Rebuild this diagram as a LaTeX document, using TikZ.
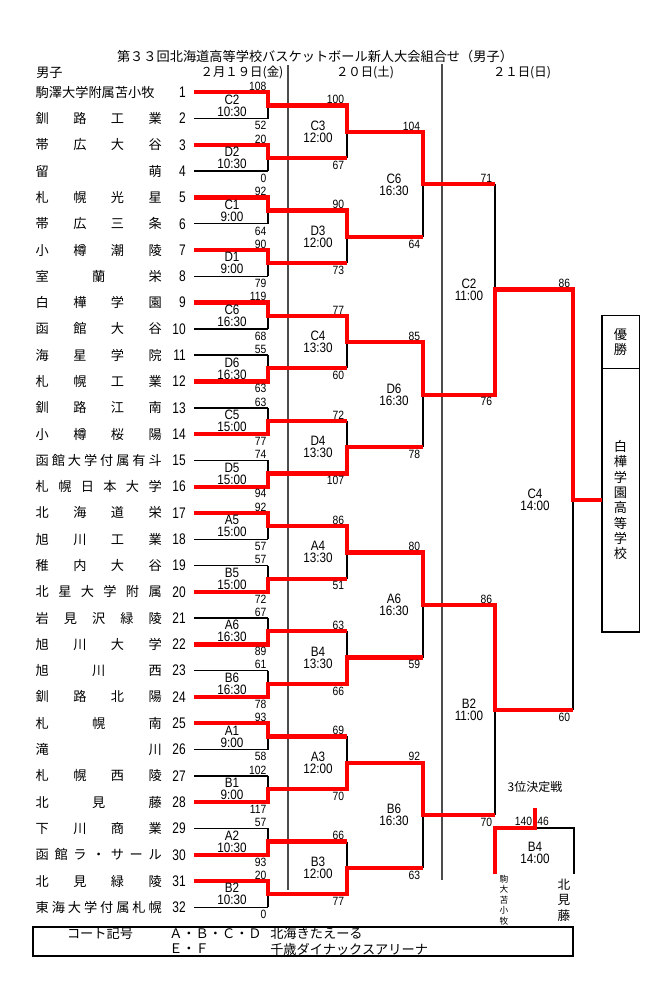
\documentclass[tikz,border=0pt]{standalone}
\usepackage{fontspec}
\setmainfont{Noto Sans CJK JP}
\newfontfamily\numfont[FakeStretch=0.86]{Liberation Sans}
\newfontfamily\seedfont[FakeStretch=0.78]{Liberation Sans}
\usetikzlibrary{positioning}

% spread a school name over the name column
\def\spreadfirst#1{\ifx\relax#1\else#1\expandafter\spreadrest\fi}
\def\spreadrest#1{\ifx\relax#1\else\hfill#1\expandafter\spreadrest\fi}
\newcommand{\schoolname}[1]{\hbox to 94.5pt{\spreadfirst#1\relax}}

\begin{document}
\begin{tikzpicture}[x=0.75pt, y=-0.75pt,
  bline/.style={black, line width=1.1pt},
  win/.style={red, line width=3.2pt, line join=miter},
  dayline/.style={black!70, line width=1.2pt},
  school/.style={inner sep=0pt, font=\fontsize{9.9}{12}\selectfont},
  seed/.style={inner sep=0pt, font=\seedfont\fontsize{11.5}{12}\selectfont},
  pts/.style={inner sep=0pt, font=\numfont\fontsize{9}{9}\selectfont},
  game/.style={inner sep=0pt, align=center, font=\numfont\fontsize{10.2}{9}\selectfont},
  jtext/.style={inner sep=0pt, font=\fontsize{9.9}{12}\selectfont},
  tate/.style={inner sep=0pt, align=center},
  champbox/.style={draw, line width=1.2pt, minimum width=28.2pt, inner sep=0pt, outer sep=0pt, align=center, font=\fontsize{9.9}{11.5}\selectfont}]
\useasboundingbox (0,0) rectangle (667,1000);

% header
\node[jtext] (title) at (315,56) {第３３回北海道高等学校バスケットボール新人大会組合せ（男子）};
\node[jtext, anchor=west] (boys) at (36,72.7) {男子};
\node[jtext, font=\fontsize{9.3}{12}\selectfont] (day1) at (242,72.7) {２月１９日(金)};
\node[jtext, font=\fontsize{9.3}{12}\selectfont] (day2) at (365,72.7) {２０日(土)};
\node[jtext, font=\fontsize{9.3}{12}\selectfont] (day3) at (522,72.7) {２１日(日)};
\draw[dayline] (288,65) -- (288,890);
\draw[dayline] (442,64) -- (442,880);

% rows of the 32 teams
\foreach \i in {1,...,32}{
  \pgfmathsetmacro\ty{92.3+(\i-1)*26.29}
  \coordinate (t\i) at (194,\ty);
  \coordinate (a\i) at (268,\ty);
}
% meeting points, round by round
\foreach \m in {1,...,16}{
  \pgfmathsetmacro\ty{92.3+(2*\m-1.5)*26.29}
  \coordinate (m1-\m) at (268,\ty);
  \coordinate (e1-\m) at (347,\ty);
  \coordinate (g1-\m) at (232,\ty);
}
\foreach \m in {1,...,8}{
  \pgfmathsetmacro\ty{92.3+(4*\m-2.5)*26.29}
  \coordinate (m2-\m) at (347,\ty);
  \coordinate (e2-\m) at (423,\ty);
  \coordinate (g2-\m) at (318,\ty);
}
\foreach \m in {1,...,4}{
  \pgfmathsetmacro\ty{92.3+(8*\m-4.5)*26.29}
  \coordinate (m3-\m) at (423,\ty);
  \coordinate (e3-\m) at (495,\ty);
  \coordinate (g3-\m) at (394,\ty);
}
\foreach \m in {1,2}{
  \pgfmathsetmacro\ty{92.3+(16*\m-8.5)*26.29}
  \coordinate (m4-\m) at (495,\ty);
  \coordinate (e4-\m) at (573,\ty);
  \coordinate (g4-\m) at (469,\ty);
}
\coordinate (m5) at (573,{92.3+15.5*26.29});
\coordinate (g5) at (535,{92.3+15.5*26.29});

% school names and numbers
\node[school, left=24pt of t1] (n1) {\hbox to 94.5pt{駒澤大学附属苫小牧\hfil}};
\foreach \i/\s in {2/釧路工業,3/帯広大谷,4/留萌,5/札幌光星,6/帯広三条,7/小樽潮陵,8/室蘭栄,
  9/白樺学園,10/函館大谷,11/海星学院,12/札幌工業,13/釧路江南,14/小樽桜陽,15/函館大学付属有斗,
  16/札幌日本大学,17/北海道栄,18/旭川工業,19/稚内大谷,20/北星大学附属,21/岩見沢緑陵,22/旭川大学,
  23/旭川西,24/釧路北陽,25/札幌南,26/滝川,27/札幌西陵,28/北見藤,29/下川商業,30/函館ラ・サール,
  31/北見緑陵,32/東海大学付属札幌}
  \node[school, left=24pt of t\i] (n\i) {\expandafter\schoolname\expandafter{\s}};
\foreach \i in {1,...,32}
  \node[seed, left=6pt of t\i] (s\i) {\i};

% bracket lines
\foreach \i in {1,...,32} \draw[bline] (t\i) -- (a\i);
\foreach \m in {1,...,16}{
  \pgfmathtruncatemacro\ua{2*\m-1}
  \pgfmathtruncatemacro\ub{2*\m}
  \draw[bline] (a\ua) -- (a\ub) (m1-\m) -- (e1-\m);
}
\foreach \m in {1,...,8}{
  \pgfmathtruncatemacro\ua{2*\m-1}
  \pgfmathtruncatemacro\ub{2*\m}
  \draw[bline] (e1-\ua) -- (e1-\ub) (m2-\m) -- (e2-\m);
}
\foreach \m in {1,...,4}{
  \pgfmathtruncatemacro\ua{2*\m-1}
  \pgfmathtruncatemacro\ub{2*\m}
  \draw[bline] (e2-\ua) -- (e2-\ub) (m3-\m) -- (e3-\m);
}
\foreach \m in {1,2}{
  \pgfmathtruncatemacro\ua{2*\m-1}
  \pgfmathtruncatemacro\ub{2*\m}
  \draw[bline] (e3-\ua) -- (e3-\ub) (m4-\m) -- (e4-\m);
}
\draw[bline] (e4-1) -- (e4-2);

% champion
\node[champbox, minimum height=39.5pt] (yusho) at (620.5,342) {優\\勝};
\node[champbox, minimum height=197.6pt, below=0pt of yusho] (champ) {白\\樺\\学\\園\\高\\等\\学\\校};

% winners
\draw[win] (t1) -- (a1) -- (m1-1) -- (e1-1) -- (m2-1) -- (e2-1) -- (m3-1) -- (e3-1);
\draw[win] (t3) -- (a3) -- (m1-2) -- (e1-2);
\draw[win] (t5) -- (a5) -- (m1-3) -- (e1-3) -- (m2-2) -- (e2-2);
\draw[win] (t7) -- (a7) -- (m1-4) -- (e1-4);
\draw[win] (t9) -- (a9) -- (m1-5) -- (e1-5) -- (m2-3) -- (e2-3) -- (m3-2) -- (e3-2) -- (m4-1) -- (e4-1) -- (m5) -- (m5 -| champ.west);
\draw[win] (t12) -- (a12) -- (m1-6) -- (e1-6);
\draw[win] (t14) -- (a14) -- (m1-7) -- (e1-7);
\draw[win] (t16) -- (a16) -- (m1-8) -- (e1-8) -- (m2-4) -- (e2-4);
\draw[win] (t17) -- (a17) -- (m1-9) -- (e1-9) -- (m2-5) -- (e2-5) -- (m3-3) -- (e3-3) -- (m4-2) -- (e4-2);
\draw[win] (t20) -- (a20) -- (m1-10) -- (e1-10);
\draw[win] (t22) -- (a22) -- (m1-11) -- (e1-11);
\draw[win] (t24) -- (a24) -- (m1-12) -- (e1-12) -- (m2-6) -- (e2-6);
\draw[win] (t25) -- (a25) -- (m1-13) -- (e1-13);
\draw[win] (t28) -- (a28) -- (m1-14) -- (e1-14) -- (m2-7) -- (e2-7) -- (m3-4) -- (e3-4);
\draw[win] (t30) -- (a30) -- (m1-15) -- (e1-15);
\draw[win] (t31) -- (a31) -- (m1-16) -- (e1-16) -- (m2-8) -- (e2-8);

% scores
\foreach \m/\sa/\sb in {1/108/52,2/20/0,3/92/64,4/90/79,5/119/68,6/55/63,7/63/77,8/74/94,
  9/92/57,10/57/72,11/67/89,12/61/78,13/93/58,14/102/117,15/57/93,16/20/0}{
  \pgfmathtruncatemacro\ua{2*\m-1}
  \pgfmathtruncatemacro\ub{2*\m}
  \node[pts, above left=1pt and 1pt of a\ua] {\sa};
  \node[pts, below left=2pt and 1pt of a\ub] {\sb};
}
\foreach \m/\sa/\sb in {1/100/67,2/90/73,3/77/60,4/72/107,5/86/51,6/63/66,7/69/70,8/66/77}{
  \pgfmathtruncatemacro\ua{2*\m-1}
  \pgfmathtruncatemacro\ub{2*\m}
  \node[pts, above left=1pt and 2pt of e1-\ua] {\sa};
  \node[pts, below left=2pt and 2pt of e1-\ub] {\sb};
}
\foreach \m/\sa/\sb in {1/104/64,2/85/78,3/80/59,4/92/63}{
  \pgfmathtruncatemacro\ua{2*\m-1}
  \pgfmathtruncatemacro\ub{2*\m}
  \node[pts, above left=1pt and 2pt of e2-\ua] {\sa};
  \node[pts, below left=2pt and 2pt of e2-\ub] {\sb};
}
\foreach \m/\sa/\sb in {1/71/76,2/86/70}{
  \pgfmathtruncatemacro\ua{2*\m-1}
  \pgfmathtruncatemacro\ub{2*\m}
  \node[pts, above left=1pt and 2pt of e3-\ua] {\sa};
  \node[pts, below left=2pt and 2pt of e3-\ub] {\sb};
}
\node[pts, above left=1pt and 2pt of e4-1] {86};
\node[pts, below left=2pt and 2pt of e4-2] {60};

% courts and times
\foreach \g/\h [count=\m] in {C2/10:30,D2/10:30,C1/9:00,D1/9:00,C6/16:30,D6/16:30,C5/15:00,D5/15:00,
  A5/15:00,B5/15:00,A6/16:30,B6/16:30,A1/9:00,B1/9:00,A2/10:30,B2/10:30}
  \node[game] at (g1-\m) {\g\\\h};
\foreach \g/\h [count=\m] in {C3/12:00,D3/12:00,C4/13:30,D4/13:30,A4/13:30,B4/13:30,A3/12:00,B3/12:00}
  \node[game] at (g2-\m) {\g\\\h};
\foreach \g/\h [count=\m] in {C6/16:30,D6/16:30,A6/16:30,B6/16:30}
  \node[game] at (g3-\m) {\g\\\h};
\foreach \g/\h [count=\m] in {C2/11:00,B2/11:00}
  \node[game] at (g4-\m) {\g\\\h};
\node[game] at (g5) {C4\\14:00};

% third place
\coordinate (p-l) at (495,874);
\coordinate (p-lt) at (495,828);
\coordinate (p-m) at (535,828);
\coordinate (p-top) at (535,808);
\coordinate (p-rt) at (574,828);
\coordinate (p-r) at (574,874);
\draw[bline] (p-m) -- (p-rt) -- (p-r);
\draw[win] (p-l) -- (p-lt) -- (p-m) -- (p-top);
\node[jtext, font=\fontsize{9}{12}\selectfont] (third) at (535,787) {3位決定戦};
\node[pts, above left=1.5pt and 2pt of p-m] {140};
\node[pts, above right=1.5pt and 1.5pt of p-m] {46};
\node[game] at (535,853) {B4\\14:00};
\node[tate, font=\fontsize{6.5}{7.8}\selectfont] (komadai) at (504,900) {駒\\大\\苫\\小\\牧};
\node[tate, font=\fontsize{9.5}{11.5}\selectfont] (kitami) at (564,900) {北\\見\\藤};

% courts
\draw[line width=1.5pt] (33,926.7) rectangle (573,956);
\node[jtext] (court) at (100,933.5) {コート記号};
\node[jtext, anchor=west] (abcd) at (169,933.5) {Ａ・Ｂ・Ｃ・Ｄ};
\node[jtext, anchor=west] (ef) at (169,949) {Ｅ・Ｆ};
\node[jtext, anchor=west] (kitaeru) at (270,933.5) {北海きたえーる};
\node[jtext, anchor=west] (chitose) at (270,949) {千歳ダイナックスアリーナ};
\end{tikzpicture}
\end{document}
